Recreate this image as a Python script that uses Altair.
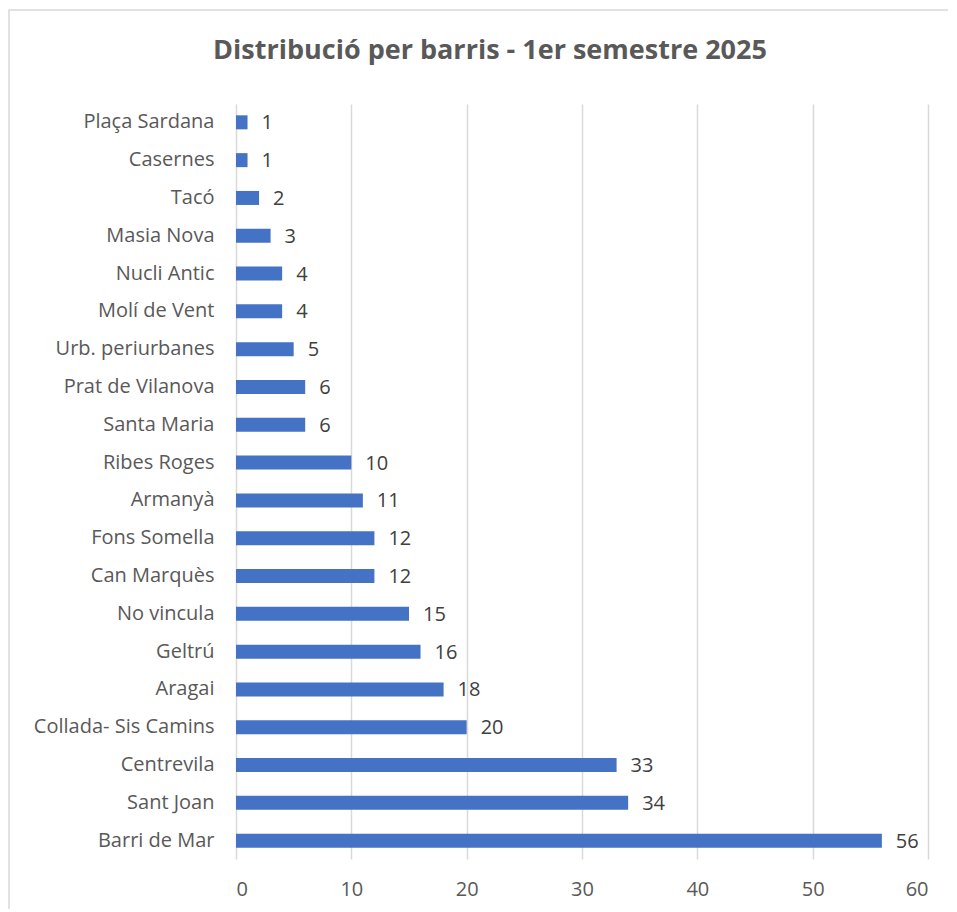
import altair as alt
import pandas as pd

barris = ["Plaça Sardana", "Casernes", "Tacó", "Masia Nova", "Nucli Antic",
          "Molí de Vent", "Urb. periurbanes", "Prat de Vilanova", "Santa Maria",
          "Ribes Roges", "Armanyà", "Fons Somella", "Can Marquès", "No vincula",
          "Geltrú", "Aragai", "Collada- Sis Camins", "Centrevila", "Sant Joan",
          "Barri de Mar"]
valors = [1, 1, 2, 3, 4, 4, 5, 6, 6, 10, 11, 12, 12, 15, 16, 18, 20, 33, 34, 56]

df = pd.DataFrame({"barri": barris, "valor": valors})

FONT = "Open Sans"
W, H = 692, 755

y_enc = alt.Y("barri:N", sort=barris, title=None,
              scale=alt.Scale(paddingInner=0.63, paddingOuter=0.3))
x_enc = alt.X("valor:Q", title=None,
              scale=alt.Scale(domain=[0, 60], nice=False),
              axis=alt.Axis(values=[0, 10, 20, 30, 40, 50, 60]))

border = alt.Chart(pd.DataFrame({"a": [0]})).mark_rect(
    fill=None, stroke="#d9d9d9", strokeWidth=1.5, clip=False
).encode(x=alt.value(-227), x2=alt.value(900), y=alt.value(-94), y2=alt.value(1000))

bars = alt.Chart(df).mark_bar(color="#4472C4", size=14).encode(y=y_enc, x=x_enc)

labels = alt.Chart(df).mark_text(
    align="left", baseline="middle", dx=14, dy=1, font=FONT, fontSize=20, color="#404040"
).encode(y=y_enc, x=x_enc, text="valor:Q")

chart = alt.layer(border, bars, labels).properties(
    width=W, height=H,
    autosize=alt.AutoSizeParams(type="none"),
    padding={"left": 228, "top": 96, "right": 20, "bottom": 50},
    title=alt.TitleParams(
        "Distribució per barris - 1er semestre 2025",
        font=FONT, fontSize=27, fontWeight="bold", color="#595959",
        anchor="middle", dx=-92, offset=-77, baseline="alphabetic",
    ),
).configure_view(stroke=None).configure_axis(
    labelFont=FONT, labelFontSize=20, labelColor="#595959", labelLimit=0,
    domain=False, ticks=False, gridColor="#d9d9d9", gridWidth=1.5,
).configure_axisY(grid=False, labelPadding=22).configure_axisX(
    labelPadding=20, grid=True
)

chart.save("out.html", embed_options={"renderer": "svg", "actions": False})
